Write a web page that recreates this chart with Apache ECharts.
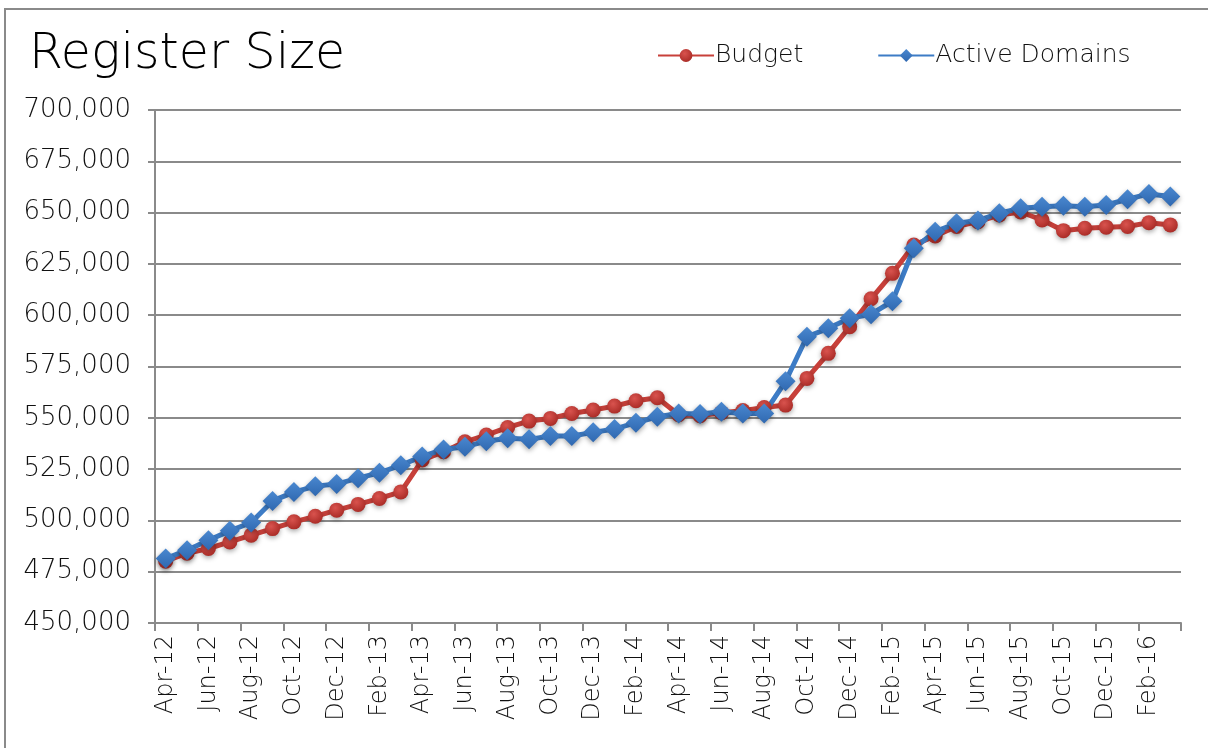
<!DOCTYPE html>
<html>
<head>
<meta charset="utf-8">
<script src="https://cdn.jsdelivr.net/npm/echarts@6/dist/echarts.min.js"></script>
<style>
    html, body { margin: 0; padding: 0; background: #fff; }
    .reg-cont { width: 1208px; height: 748px; position: relative; overflow: hidden; }
    .reg-frame { position: absolute; left: 4px; top: 8px; width: 1400px; height: 900px; border: 2px solid #8a8a8a; }
    #regsize { position: absolute; left: 0; top: 0; width: 1208px; height: 748px; }
</style>
</head>
<body>
<div class="reg-cont">
    <div class="reg-frame"></div>
    <div id="regsize"></div>
</div>
<script>
    // 月份
    var months = [
        'Apr-12','May-12','Jun-12','Jul-12','Aug-12','Sep-12','Oct-12','Nov-12','Dec-12','Jan-13','Feb-13','Mar-13',
        'Apr-13','May-13','Jun-13','Jul-13','Aug-13','Sep-13','Oct-13','Nov-13','Dec-13','Jan-14','Feb-14','Mar-14',
        'Apr-14','May-14','Jun-14','Jul-14','Aug-14','Sep-14','Oct-14','Nov-14','Dec-14','Jan-15','Feb-15','Mar-15',
        'Apr-15','May-15','Jun-15','Jul-15','Aug-15','Sep-15','Oct-15','Nov-15','Dec-15','Jan-16','Feb-16','Mar-16'
    ];

    // Budget
    var budget = [
        480100, 484000, 486300, 489500, 492800, 496000, 499300, 502000, 505000, 507800, 510700, 513900,
        529400, 533500, 538300, 541600, 545300, 548400, 549700, 552100, 553800, 555700, 558300, 559800,
        551500, 551000, 552500, 553500, 555000, 556200, 569200, 581400, 594400, 608000, 620400, 634200,
        638600, 643200, 645600, 648800, 650300, 646400, 641200, 642400, 642900, 643200, 645100, 644000
    ];

    // Active Domains
    var activeDomains = [
        481400, 485500, 490300, 494900, 499000, 509500, 513800, 516700, 517700, 520600, 523200, 526900,
        531200, 534600, 535900, 538600, 540000, 539500, 541100, 541100, 542900, 544500, 547600, 550500,
        552100, 551800, 552900, 552100, 552100, 567800, 589500, 593600, 598500, 600500, 606800, 632600,
        640700, 644800, 646100, 649700, 652100, 652900, 653300, 652900, 653700, 656500, 659100, 657800
    ];

    var FONT = '"DejaVu Sans", sans-serif';

    function fmtNum(v) {
        return String(v).replace(/\B(?=(\d{3})+(?!\d))/g, ',');
    }

    var chart = echarts.init(document.getElementById('regsize'));

    var option = {
        animation: false,
        title: {
            text: 'Register Size',
            left: 24,
            top: 26,
            textStyle: { fontFamily: FONT, fontSize: 49, fontWeight: 200, color: '#000' }
        },
        legend: {
            top: 38,
            left: 652,
            itemWidth: 56,
            itemHeight: 16,
            itemGap: 74,
            textStyle: { fontFamily: FONT, fontSize: 25, fontWeight: 200, color: '#111', padding: [0, 0, 0, -4] },
            data: ['Budget', 'Active Domains']
        },
        grid: {
            left: 155,
            right: 27,
            top: 110,
            bottom: 125,
            containLabel: false
        },
        xAxis: {
            type: 'category',
            boundaryGap: true,
            data: months,
            axisLine: { lineStyle: { color: '#8a8a8a', width: 2 } },
            axisTick: { show: true, interval: 1, length: 8, lineStyle: { color: '#8a8a8a', width: 2 } },
            axisLabel: {
                interval: 1,
                rotate: 90,
                margin: 12,
                fontFamily: FONT,
                fontSize: 24,
                fontWeight: 200,
                color: '#111'
            }
        },
        yAxis: {
            type: 'value',
            min: 450000,
            max: 700000,
            interval: 25000,
            axisLine: { show: true, lineStyle: { color: '#8a8a8a', width: 2 } },
            axisTick: { show: true, length: 7, lineStyle: { color: '#8a8a8a', width: 2 } },
            splitLine: { lineStyle: { color: '#8a8a8a', width: 2 } },
            axisLabel: {
                margin: 24,
                fontFamily: FONT,
                fontSize: 26,
                fontWeight: 200,
                color: '#111',
                formatter: fmtNum
            }
        },
        series: [
            {
                name: 'Budget',
                type: 'line',
                data: budget,
                symbol: 'circle',
                symbolSize: 15,
                showAllSymbol: true,
                color: '#c0403b',
                lineStyle: { width: 5, color: '#c8403a' },
                itemStyle: {
                    color: new echarts.graphic.RadialGradient(0.4, 0.35, 0.7, [
                        { offset: 0, color: '#d9534e' },
                        { offset: 1, color: '#a82a25' }
                    ]),
                    shadowBlur: 5,
                    shadowColor: 'rgba(0,0,0,0.35)',
                    shadowOffsetY: 2
                }
            },
            {
                name: 'Active Domains',
                type: 'line',
                data: activeDomains,
                symbol: 'diamond',
                symbolSize: 20,
                showAllSymbol: true,
                color: '#3a76bf',
                lineStyle: { width: 5, color: '#3d7cc6' },
                itemStyle: {
                    color: new echarts.graphic.LinearGradient(0, 0, 0, 1, [
                        { offset: 0, color: '#4a88d0' },
                        { offset: 1, color: '#2f68b0' }
                    ]),
                    shadowBlur: 5,
                    shadowColor: 'rgba(0,0,0,0.35)',
                    shadowOffsetY: 2
                }
            }
        ]
    };

    chart.setOption(option);
</script>
</body>
</html>
